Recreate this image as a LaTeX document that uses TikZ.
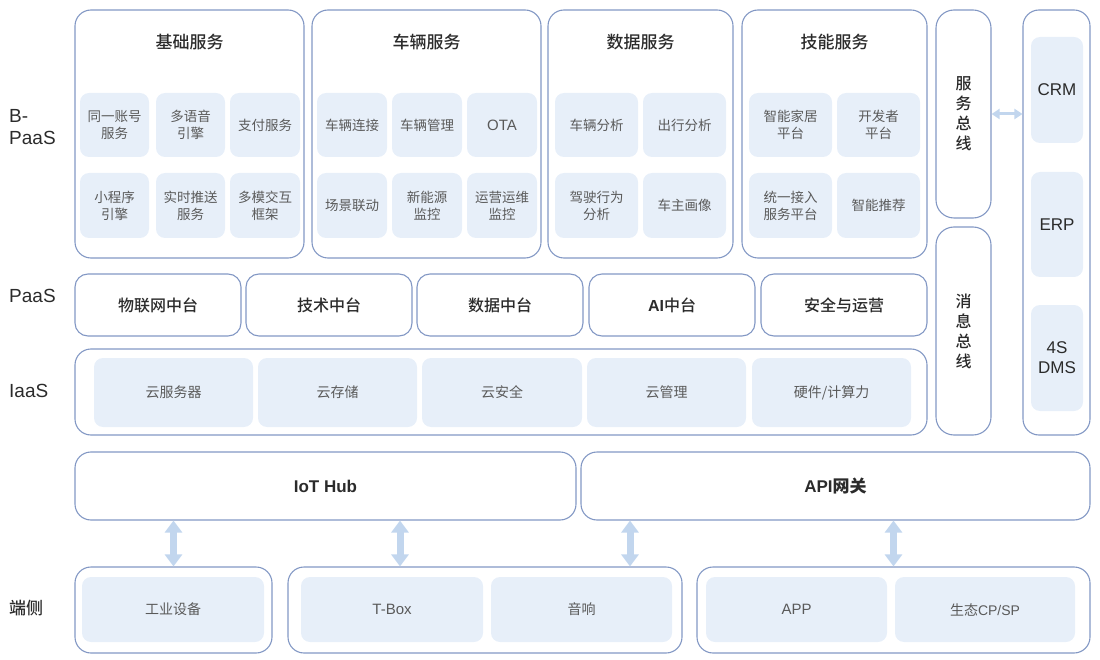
\documentclass[tikz,border=0pt]{standalone}
\usepackage{fontspec}
\setmainfont{Liberation Sans}
\newfontfamily\cjk{Noto Sans CJK SC}
\newfontfamily\cjkm{Noto Sans CJK SC Medium}
\usetikzlibrary{arrows.meta}
\definecolor{lineC}{HTML}{8398C4}
\definecolor{fillC}{HTML}{E7EFF9}
\definecolor{arrC}{HTML}{C2D6EE}
\definecolor{darkT}{HTML}{2B2B2B}
\definecolor{greyT}{HTML}{5A5A5A}
\newcommand\bx[7]{\node[#2,minimum width={(#5-#3)*1pt},minimum height={(#6-#4)*1pt}] (#1) at ({(#3+#5)/2},{(#4+#6)/2}) {#7};}
\newcommand\lat[1]{{\rmfamily #1}}
\tikzset{
 outer/.style={draw=lineC, line width=1.1pt, rounded corners=16pt, inner sep=0pt},
 sub/.style={fill=fillC, rounded corners=9pt, inner sep=0pt, text=greyT, align=center, font=\cjk\fontsize{13.5}{17}\selectfont},
 subi/.style={sub, font=\cjk\fontsize{14}{17}\selectfont},
 subl/.style={sub, font=\fontsize{15}{18}\selectfont},
 extbox/.style={fill=fillC, rounded corners=9pt, inner sep=0pt, text=darkT, align=center, font=\fontsize{17}{20}\selectfont},
 paasbox/.style={draw=lineC, line width=1.1pt, rounded corners=13pt, inner sep=0pt, text=darkT, font=\cjkm\fontsize{16}{19}\selectfont},
 hubbox/.style={draw=lineC, line width=1.1pt, rounded corners=16pt, inner sep=0pt, text=darkT, font=\bfseries\fontsize{17}{20}\selectfont},
 busbox/.style={draw=lineC, line width=1.1pt, rounded corners=18pt, inner sep=0pt, text=darkT, align=center, font=\cjkm\fontsize{16}{20}\selectfont},
 ttl/.style={text=darkT, font=\cjkm\fontsize{17}{20}\selectfont},
 rowlbl/.style={text=darkT, font=\fontsize{19}{22}\selectfont, align=left, anchor=west, inner sep=0pt},
 arr/.style={draw=arrC, line width=7pt, {Triangle[width=17pt,length=12pt]}-{Triangle[width=17pt,length=12pt]}},
 harr/.style={draw=arrC, line width=3pt, {Triangle[width=10pt,length=8pt]}-{Triangle[width=10pt,length=8pt]}},
}
\begin{document}
\begin{tikzpicture}[x=1pt,y=-1pt]
\useasboundingbox (0,0) rectangle (1100,660);
% row labels
\node[rowlbl] (lb) at (9,127) {B-\\PaaS};
\node[rowlbl] (lp) at (9,296) {PaaS};
\node[rowlbl] (li) at (9,391) {IaaS};
\node[rowlbl, font=\cjkm\fontsize{17}{20}\selectfont] (ld) at (9,608) {端侧};
% B-PaaS
\bx{jc}{outer}{75}{10}{304}{258}{}
\node[ttl] (tjc) at (189.5,42) {基础服务};
\bx{jc1}{sub}{80}{93}{149}{157}{同一账号\\服务}
\bx{jc2}{sub}{156}{93}{225}{157}{多语音\\引擎}
\bx{jc3}{sub}{230}{93}{300}{157}{支付服务}
\bx{jc4}{sub}{80}{173}{149}{238}{小程序\\引擎}
\bx{jc5}{sub}{156}{173}{225}{238}{实时推送\\服务}
\bx{jc6}{sub}{230}{173}{300}{238}{多模交互\\框架}

\bx{cl}{outer}{312}{10}{541}{258}{}
\node[ttl] (tcl) at (426.5,42) {车辆服务};
\bx{cl1}{sub}{317}{93}{387}{157}{车辆连接}
\bx{cl2}{sub}{392}{93}{462}{157}{车辆管理}
\bx{cl3}{subl}{467}{93}{537}{157}{OTA}
\bx{cl4}{sub}{317}{173}{387}{238}{场景联动}
\bx{cl5}{sub}{392}{173}{462}{238}{新能源\\监控}
\bx{cl6}{sub}{467}{173}{537}{238}{运营运维\\监控}

\bx{sj}{outer}{548}{10}{733}{258}{}
\node[ttl] (tsj) at (640.5,42) {数据服务};
\bx{sj1}{sub}{555}{93}{638}{157}{车辆分析}
\bx{sj2}{sub}{643}{93}{726}{157}{出行分析}
\bx{sj3}{sub}{555}{173}{638}{238}{驾驶行为\\分析}
\bx{sj4}{sub}{643}{173}{726}{238}{车主画像}

\bx{jn}{outer}{742}{10}{927}{258}{}
\node[ttl] (tjn) at (834.5,42) {技能服务};
\bx{jn1}{sub}{749}{93}{832}{157}{智能家居\\平台}
\bx{jn2}{sub}{837}{93}{920}{157}{开发者\\平台}
\bx{jn3}{sub}{749}{173}{832}{238}{统一接入\\服务平台}
\bx{jn4}{sub}{837}{173}{920}{238}{智能推荐}

% buses and external systems
\bx{bus1}{busbox}{936}{10}{991}{218}{服\\务\\总\\线}
\bx{bus2}{busbox}{936}{227}{991}{435}{消\\息\\总\\线}
\bx{ext}{outer}{1023}{10}{1090}{435}{}
\bx{crm}{extbox}{1031}{37}{1083}{143}{CRM}
\bx{erp}{extbox}{1031}{172}{1083}{277}{ERP}
\bx{dms}{extbox}{1031}{305}{1083}{411}{4S\\DMS}
\draw[harr] (bus1.east) -- (bus1.east -| ext.west);

% PaaS
\bx{p1}{paasbox}{75}{274}{241}{336}{物联网中台}
\bx{p2}{paasbox}{246}{274}{412}{336}{技术中台}
\bx{p3}{paasbox}{417}{274}{583}{336}{数据中台}
\bx{p4}{paasbox}{589}{274}{755}{336}{\lat{\bfseries AI}中台}
\bx{p5}{paasbox}{761}{274}{927}{336}{安全与运营}

% IaaS
\bx{ia}{outer}{75}{349}{927}{435}{}
\bx{ia1}{subi}{94}{358}{253}{427}{云服务器}
\bx{ia2}{subi}{258}{358}{417}{427}{云存储}
\bx{ia3}{subi}{422}{358}{582}{427}{云安全}
\bx{ia4}{subi}{587}{358}{746}{427}{云管理}
\bx{ia5}{subi}{752}{358}{911}{427}{硬件/计算力}

% hubs
\bx{iot}{hubbox}{75}{452}{576}{520}{IoT Hub}
\bx{api}{hubbox}{581}{452}{1090}{520}{API{\cjkm 网关}}

% devices
\bx{d1}{outer}{75}{567}{272}{653}{}
\bx{d1a}{subi}{82}{577}{264}{642}{工业设备}
\bx{d2}{outer}{288}{567}{682}{653}{}
\bx{d2a}{subl}{301}{577}{483}{642}{T-Box}
\bx{d2b}{subi}{491}{577}{672}{642}{音响}
\bx{d3}{outer}{697}{567}{1090}{653}{}
\bx{d3a}{subl}{706}{577}{887}{642}{APP}
\bx{d3b}{subi}{895}{577}{1075}{642}{生态\lat{CP/SP}}

% arrows
\coordinate (ax2) at (400,0);
\coordinate (ax3) at (630,0);
\draw[arr] (iot.south -| d1.north) -- (d1.north);
\draw[arr] (iot.south -| ax2) -- (d2.north -| ax2);
\draw[arr] (api.south -| ax3) -- (d2.north -| ax3);
\draw[arr] (api.south -| d3.north) -- (d3.north);
\end{tikzpicture}
\end{document}
